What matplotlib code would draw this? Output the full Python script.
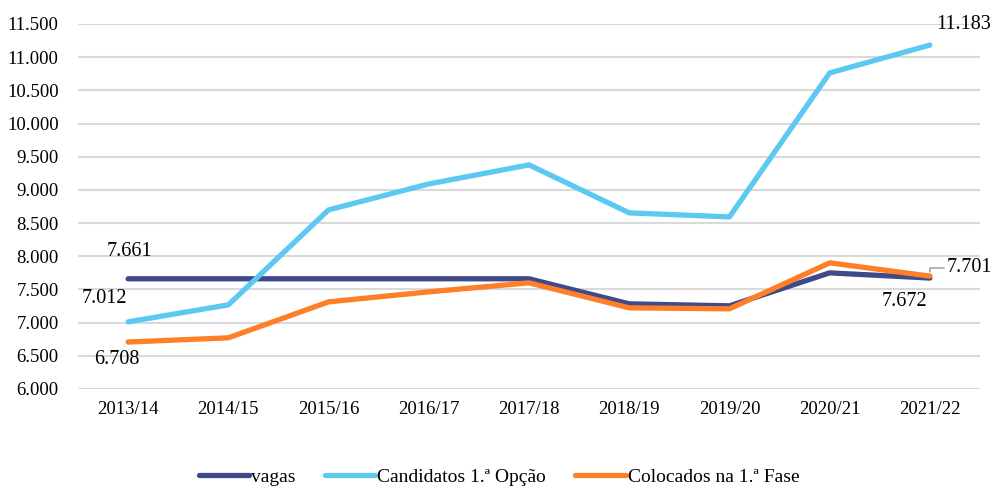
import matplotlib
matplotlib.use("Agg")
import matplotlib.pyplot as plt
from matplotlib.ticker import FuncFormatter

years = ["2013/14", "2014/15", "2015/16", "2016/17", "2017/18", "2018/19", "2019/20", "2020/21", "2021/22"]
vagas = [7661, 7661, 7661, 7661, 7661, 7283, 7253, 7750, 7672]
candidatos = [7012, 7268, 8699, 9090, 9377, 8654, 8593, 10762, 11183]
colocados = [6708, 6771, 7313, 7464, 7600, 7223, 7208, 7901, 7701]
series_names = ["vagas", "Candidatos 1.ª Opção", "Colocados na 1.ª Fase"]
colors = ["#3f4a8a", "#5bc9f1", "#fd7f27"]

plt.rcParams['font.family'] = ['Liberation Serif', 'DejaVu Serif']

fig = plt.figure(figsize=(9.92, 4.88), dpi=100)
ax = fig.add_axes([78/992, 1-389/488, (980-78)/992, (389-24)/488])

x = list(range(len(years)))
for vals, name, c, z in zip([vagas, candidatos, colocados], series_names, colors, [3, 4, 5]):
    ax.plot(x, vals, color=c, lw=3.8, label=name, zorder=z, solid_capstyle='round')

ax.set_xlim(-0.5, len(years) - 0.5)
ax.set_ylim(6000, 11500)
ax.set_yticks(range(6000, 11501, 500))
ax.yaxis.set_major_formatter(FuncFormatter(lambda v, p: f"{int(v):,}".replace(",", ".")))
ax.set_xticks(x)
ax.set_xticklabels(years)
ax.grid(axis='y', color='#d9d9d9', lw=1.5, zorder=0)
ax.set_axisbelow(True)
for s in ax.spines.values():
    s.set_visible(False)
ax.tick_params(axis='both', length=0, labelsize=13.5)
ax.tick_params(axis='y', pad=14)
ax.tick_params(axis='x', pad=9)

def fmt(v):
    return f"{v:,}".replace(",", ".")

fs = 14.5
ax.annotate(fmt(vagas[0]), (0, vagas[0]), xytext=(1, 13), textcoords='offset points', ha='center', va='bottom', fontsize=fs)
ax.annotate(fmt(candidatos[0]), (0, candidatos[0]), xytext=(-17, 10), textcoords='offset points', ha='center', va='bottom', fontsize=fs)
ax.annotate(fmt(colocados[0]), (0, colocados[0]), xytext=(-8, -6), textcoords='offset points', ha='center', va='top', fontsize=fs)
ax.annotate(fmt(candidatos[-1]), (8, candidatos[-1]), xytext=(24, 8), textcoords='offset points', ha='center', va='bottom', fontsize=fs)
ax.annotate(fmt(vagas[-1]), (8, vagas[-1]), xytext=(-18, -10), textcoords='offset points', ha='center', va='top', fontsize=fs)
ax.annotate(fmt(colocados[-1]), (8, colocados[-1]), xytext=(12, 6), textcoords='offset points', ha='left', va='center', fontsize=fs,
            arrowprops=dict(arrowstyle='-', color='#a6a6a6', lw=1.2, shrinkA=0, shrinkB=3,
                            connectionstyle='angle,angleA=0,angleB=90,rad=0'))

fig.legend(loc='center', bbox_to_anchor=(0.503, 0.022), ncol=3, frameon=False, fontsize=14,
           handlelength=2.6, handletextpad=0.1, columnspacing=1.5, borderpad=0.1)

fig.savefig("out.png", dpi=100)
